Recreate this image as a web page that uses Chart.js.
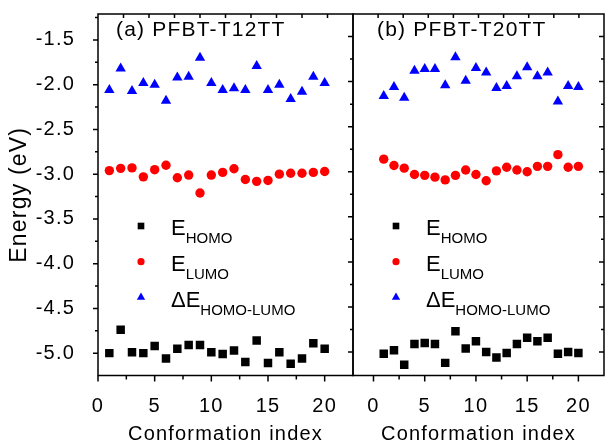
<!DOCTYPE html>
<html>
<head>
<meta charset="utf-8">
<script src="https://cdn.jsdelivr.net/npm/chart.js@4.4.0/dist/chart.umd.min.js"></script>
<style>
  html, body { margin: 0; padding: 0; background: #fff; }
  #wrap { position: relative; width: 608px; height: 445px; overflow: hidden; background: #fff; }
  #wrap canvas { position: absolute; top: 0; }
</style>
</head>
<body>
<div id="wrap">
  <canvas id="chartA" width="360" height="445" style="left:0px"></canvas>
  <canvas id="chartB" width="270" height="445" style="left:340px"></canvas>
</div>
<script>
// conformation index (x) for both panels
const conformations = [1, 2, 3, 4, 5, 6, 7, 8, 9, 10, 11, 12, 13, 14, 15, 16, 17, 18, 19, 20];

// (a) PFBT-T12TT
const homoT12 = [-5.00, -4.74, -4.99, -5.00, -4.92, -5.06, -4.95, -4.91, -4.91, -4.99,
                 -5.01, -4.97, -5.10, -4.86, -5.11, -4.99, -5.12, -5.06, -4.89, -4.95];
const lumoT12 = [-2.96, -2.935, -2.93, -3.03, -2.95, -2.90, -3.04, -3.01, -3.21, -3.01,
                 -2.98, -2.94, -3.06, -3.08, -3.07, -3.00, -2.99, -2.99, -2.98, -2.97];
const gapT12  = [-2.06, -1.82, -2.07, -1.98, -2.00, -2.18, -1.92, -1.91, -1.70, -1.98,
                 -2.06, -2.04, -2.06, -1.79, -2.06, -2.00, -2.16, -2.08, -1.91, -1.98];

// (b) PFBT-T20TT
const homoT20 = [-5.02, -4.98, -5.14, -4.91, -4.90, -4.91, -5.12, -4.77, -4.96, -4.88,
                 -5.00, -5.06, -5.01, -4.91, -4.84, -4.88, -4.84, -5.02, -5.00, -5.01];
const lumoT20 = [-2.86, -2.93, -2.96, -3.03, -3.04, -3.06, -3.09, -3.04, -2.98, -3.03,
                 -3.10, -2.99, -2.95, -2.98, -3.00, -2.94, -2.94, -2.81, -2.95, -2.94];
const gapT20  = [-2.16, -2.06, -2.18, -1.88, -1.86, -1.86, -2.04, -1.73, -1.99, -1.85,
                 -1.90, -2.07, -2.05, -1.94, -1.84, -1.94, -1.90, -2.22, -2.05, -2.06];

const yTicks = [-5.0, -4.5, -4.0, -3.5, -3.0, -2.5, -2.0, -1.5];
const xTicks = [0, 5, 10, 15, 20];
const legendMain = ['E', 'E', '\u0394E'];
const legendSub = ['HOMO', 'LUMO', 'HOMO-LUMO'];

const FONT = '"Liberation Sans", Arial, sans-serif';
Chart.defaults.font.family = FONT;
Chart.defaults.color = '#000';

function minors(major, min, max) {
  const out = [];
  const step = major[1] - major[0];
  const list = [major[0] - step / 2];
  for (let i = 0; i < major.length - 1; i++) list.push((major[i] + major[i + 1]) / 2);
  list.push(major[major.length - 1] + step / 2);
  list.forEach(v => { if (v > min + 0.02 && v < max - 0.02) out.push(v); });
  return out;
}

const framePlugin = {
  id: 'frame',
  beforeUpdate(chart) { chart.ctx.letterSpacing = '1.2px'; },
  beforeDraw(chart) { chart.ctx.letterSpacing = '1.2px'; },
  afterDraw(chart, args, opts) {
    const { ctx, chartArea: a } = chart;
    const xs = chart.scales.x, ys = chart.scales.y;
    ctx.save();
    ctx.strokeStyle = '#000';
    ctx.lineWidth = 1.5;
    ctx.strokeRect(a.left, a.top, a.right - a.left, a.bottom - a.top);
    ctx.beginPath();
    // y ticks (all pointing left)
    opts.yEdges.forEach(edge => {
      const x0 = edge === 'left' ? a.left : a.right;
      yTicks.forEach(v => {
        const p = ys.getPixelForValue(v);
        ctx.moveTo(x0, p); ctx.lineTo(x0 - 5, p);
      });
      minors(yTicks, ys.min, ys.max).forEach(v => {
        const p = ys.getPixelForValue(v);
        ctx.moveTo(x0, p); ctx.lineTo(x0 - 3, p);
      });
    });
    // bottom ticks
    xTicks.forEach(v => {
      const p = xs.getPixelForValue(v);
      ctx.moveTo(p, a.bottom); ctx.lineTo(p, a.bottom + 6);
    });
    minors(xTicks, xs.min, xs.max).forEach(v => {
      const p = xs.getPixelForValue(v);
      ctx.moveTo(p, a.bottom); ctx.lineTo(p, a.bottom + 4);
    });
    // top ticks
    for (let i = 1; i < 10; i++) {
      const p = a.left + i * (a.right - a.left) / 10;
      ctx.moveTo(p, a.top); ctx.lineTo(p, a.top + 4);
    }
    ctx.stroke();

    // panel label
    ctx.fillStyle = '#000';
    ctx.font = '21px ' + FONT;
    ctx.textAlign = 'left';
    ctx.textBaseline = 'alphabetic';
    ctx.fillText(opts.title, a.left + opts.titleDx, 35.5);

    // legend
    ctx.letterSpacing = '0px';
    const markers = [
      { pointStyle: 'rect', radius: 4.7, color: '#000' },
      { pointStyle: 'circle', radius: 3.6, color: '#ff0000' },
      { pointStyle: 'triangle', radius: 4.8, color: '#0000ff' }
    ];
    markers.forEach((m, i) => {
      const my = 226 + i * 35.7;
      ctx.fillStyle = m.color;
      Chart.helpers.drawPoint(ctx, { pointStyle: m.pointStyle, radius: m.radius, rotation: 0, borderWidth: 0 }, a.left + 43, my);
      const base = 235 + i * 35.8;
      const tx = a.left + 73;
      ctx.fillStyle = '#000';
      ctx.font = '22px ' + FONT;
      ctx.fillText(legendMain[i], tx, base);
      const w = ctx.measureText(legendMain[i]).width;
      ctx.font = '15px ' + FONT;
      ctx.fillText(legendSub[i], tx + w, base + 8);
    });
    ctx.restore();
  }
};

function makeDatasets(homo, lumo, gap) {
  return [
    { label: 'E HOMO', data: conformations.map((c, i) => ({ x: c, y: homo[i] })),
      pointStyle: 'rect', pointRadius: 6, pointHoverRadius: 6, backgroundColor: '#000', borderWidth: 0 },
    { label: 'E LUMO', data: conformations.map((c, i) => ({ x: c, y: lumo[i] })),
      pointStyle: 'circle', pointRadius: 4.7, pointHoverRadius: 4.7, backgroundColor: '#ff0000', borderWidth: 0 },
    { label: 'dE HOMO-LUMO', data: conformations.map((c, i) => ({ x: c, y: gap[i] })),
      pointStyle: 'triangle', pointRadius: 6, pointHoverRadius: 6, backgroundColor: '#0000ff', borderWidth: 0 }
  ];
}

function xScale(min, max) {
  return {
    type: 'linear', min, max,
    afterBuildTicks: s => { s.ticks = xTicks.map(v => ({ value: v })); },
    afterFit: s => { s.height = 69.5; s.paddingLeft = 0; s.paddingRight = 0; },
    grid: { display: false, drawTicks: false },
    border: { display: false },
    ticks: { font: { size: 20 }, padding: 19, maxRotation: 0, callback: v => String(v) },
    title: { display: true, text: 'Conformation index', font: { size: 20, lineHeight: 1 }, padding: { top: 0, bottom: 1 } }
  };
}

const chartA = new Chart(document.getElementById('chartA'), {
  type: 'scatter',
  data: { datasets: makeDatasets(homoT12, lumoT12, gapT12) },
  options: {
    responsive: false, animation: false,
    layout: { padding: { left: 0, right: 7, top: 14, bottom: 0 } },
    plugins: {
      legend: { display: false }, tooltip: { enabled: false },
      frame: { title: '(a) PFBT-T12TT', titleDx: 18, yEdges: ['left'] }
    },
    scales: {
      x: xScale(0, 22.5),
      y: {
        type: 'linear', min: -5.25, max: -1.21,
        afterBuildTicks: s => { s.ticks = yTicks.map(v => ({ value: v })); },
        afterFit: s => { s.width = 98; s.paddingTop = 0; s.paddingBottom = 0; },
        grid: { display: false, drawTicks: false },
        border: { display: false },
        ticks: { font: { size: 20 }, padding: 23, callback: v => Number(v).toFixed(1) },
        title: { display: true, text: 'Energy (eV)', font: { size: 23 }, padding: { top: 6, bottom: 0 } }
      }
    }
  },
  plugins: [framePlugin]
});

const chartB = new Chart(document.getElementById('chartB'), {
  type: 'scatter',
  data: { datasets: makeDatasets(homoT20, lumoT20, gapT20) },
  options: {
    responsive: false, animation: false,
    layout: { padding: { left: 13, right: 1, top: 14, bottom: 0 } },
    plugins: {
      legend: { display: false }, tooltip: { enabled: false },
      frame: { title: '(b) PFBT-T20TT', titleDx: 24, yEdges: ['left', 'right'] }
    },
    scales: {
      x: xScale(-2, 22.5),
      y: { type: 'linear', min: -5.26, max: -1.25, display: false }
    }
  },
  plugins: [framePlugin]
});
</script>
</body>
</html>
